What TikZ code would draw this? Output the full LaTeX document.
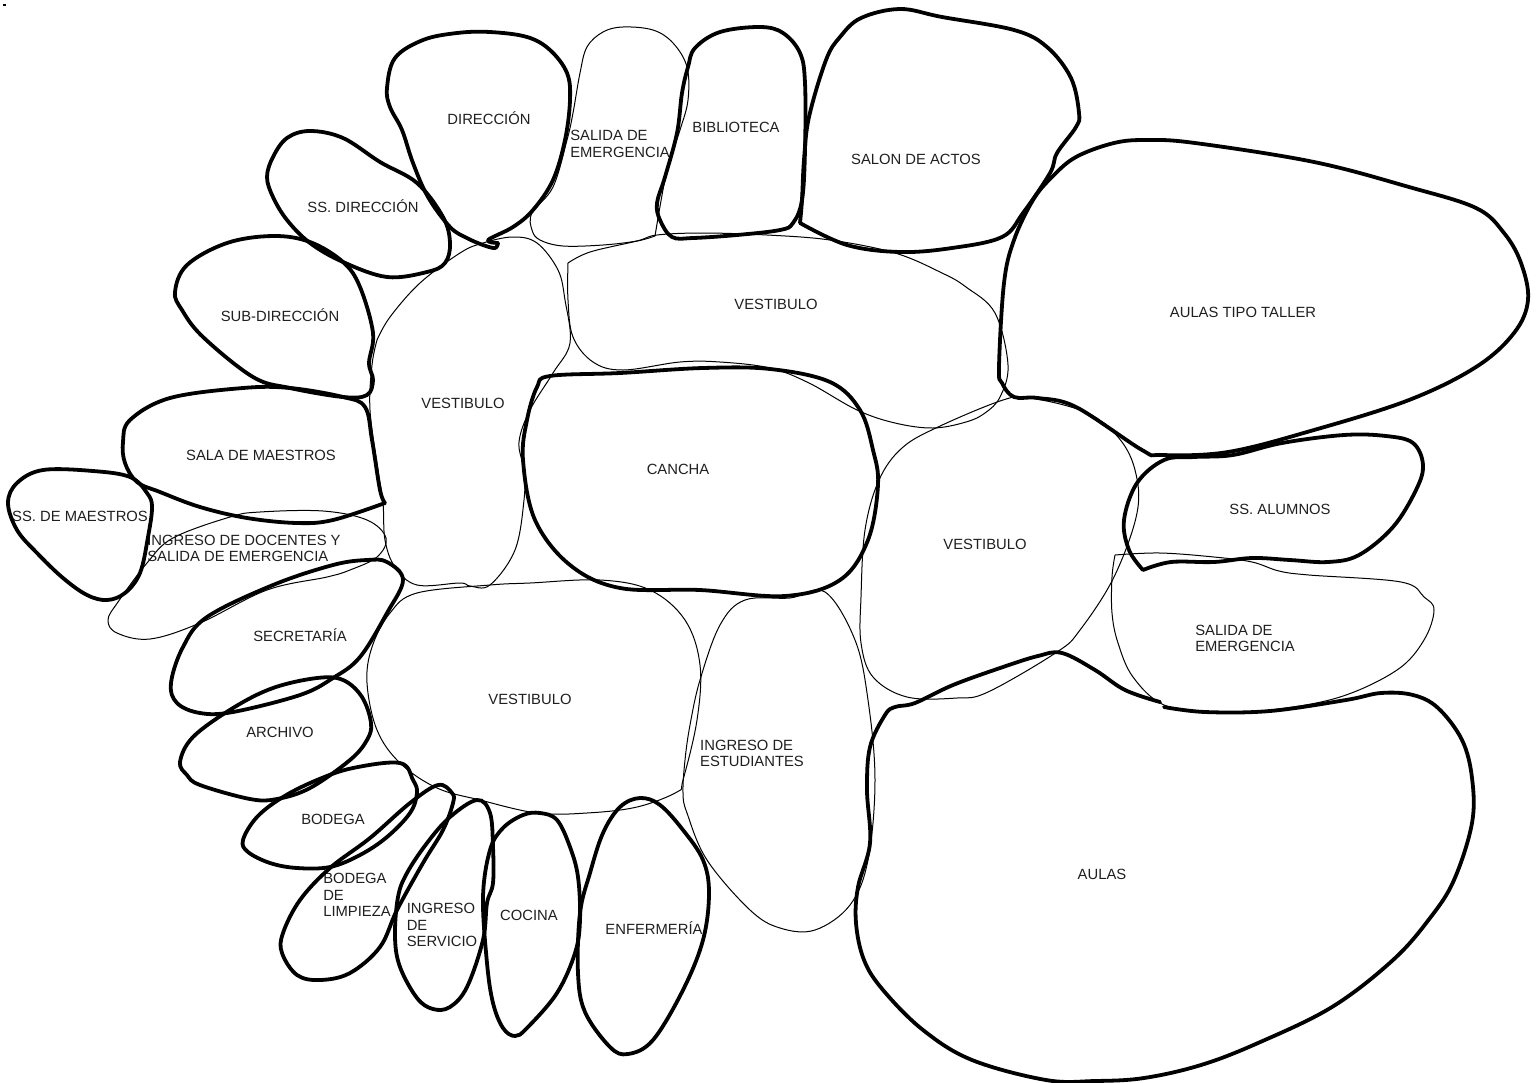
\documentclass[tikz,border=0pt]{standalone}
\usepackage{fontspec}
\setmainfont{Liberation Sans}
\tikzset{
 x=1pt,y=-1pt,
 bubble/.style={draw=black,line width=3.8pt,line join=round,line cap=round},
 thinb/.style={draw=black,line width=1pt,line join=round},
 lbl/.style={inner sep=0pt,align=left,text=black!88,font=\fontsize{14.8}{16.2}\selectfont}
}
\newcommand{\blob}[2]{\draw[#1] plot[smooth cycle,tension=0.6] coordinates {#2};}
\newcommand{\curv}[2]{\draw[#1] plot[smooth,tension=0.6] coordinates {#2};}
\begin{document}
\begin{tikzpicture}
\useasboundingbox (0,0) rectangle (1536,1082);
\fill[black] (3,4) rectangle (6,5.5);
% thin shapes
\curv{thinb}{(655,236)(667,170)(680,130)(688,100)(687,67)(673,43)(653,30)(623,27)(603,32)(587,47)(580,73)(573,113)(567,140)(553,187)(532,213)(532,230)(540,240)(563,246)(603,245)(637,241)(655,236)}
\curv{thinb}{(377,340)(390,317)(420,283)(460,253)(483,243)(513,237)(537,243)(558,270)(565,300)(570,343)(553,373)(530,410)(519,442)(524,470)(524,500)(515,550)(490,585)(470,586)(460,583)(417,585)(395,567)(385,540)(383,503)(378,470)(370,410)(372,365)(377,340)}
\curv{thinb}{(568,263)(590,252)(637,241)(657,235)(703,233)(767,235)(830,240)(895,253)(942,273)(966,287)(995,313)(1008,365)(1000,397)(985,413)(966,422)(933,428)(895,423)(857,410)(809,383)(770,368)(720,362)(680,362)(623,370)(593,362)(573,337)(568,300)(568,263)}
\blob{thinb}{(879,480)(902,448)(938,427)(1003,400)(1030,398)(1085,412)(1118,437)(1135,470)(1137,513)(1114,577)(1080,630)(1057,652)(988,692)(957,698)(907,697)(873,677)(861,643)(861,597)(865,530)}
\blob{thinb}{(367,683)(372,647)(390,613)(417,593)(490,585)(530,583)(600,580)(650,590)(685,620)(700,665)(697,720)(683,780)(677,792)(637,807)(587,813)(537,813)(480,800)(437,788)(400,763)(377,730)}
\blob{thinb}{(700,680)(720,625)(745,600)(790,598)(825,592)(855,640)(868,700)(875,780)(868,860)(850,905)(815,930)(780,928)(750,910)(707,860)(687,813)(683,793)(685,760)(690,725)}
\blob{thinb}{(108,620)(118,602)(147,563)(173,538)(230,517)(260,512)(323,511)(367,520)(386,538)(377,557)(350,570)(327,577)(267,590)(200,623)(150,639)(117,633)}
\curv{thinb}{(1115,555)(1160,553)(1214,557)(1252,562)(1279,571)(1309,575)(1401,582)(1424,597)(1434,610)(1424,640)(1397,670)(1340,697)(1271,710)(1214,713)(1164,705)(1133,677)(1118,643)(1112,613)(1112,577)(1115,555)}
% labels
\node[lbl] (n1) at (489,118) {DIRECCIÓN};
\node[lbl] (n2) at (363,206) {SS. DIRECCIÓN};
\node[lbl] (n3) at (280,315) {SUB-DIRECCIÓN};
\node[lbl] (n4) at (261,455) {SALA DE MAESTROS};
\node[lbl] (n5) at (80,516) {SS. DE MAESTROS};
\node[lbl] (n6) at (244,548) {INGRESO DE DOCENTES Y\\SALIDA DE EMERGENCIA};
\node[lbl] (n7) at (300,635) {SECRETARÍA};
\node[lbl] (n8) at (280,732) {ARCHIVO};
\node[lbl] (n9) at (333,819) {BODEGA};
\node[lbl] (n10) at (357,895) {BODEGA\\DE\\LIMPIEZA};
\node[lbl] (n11) at (442,925) {INGRESO\\DE\\SERVICIO};
\node[lbl] (n12) at (529,915) {COCINA};
\node[lbl] (n13) at (654,928) {ENFERMERÍA};
\node[lbl] (n14) at (620,144) {SALIDA DE\\EMERGENCIA};
\node[lbl] (n15) at (736,127) {BIBLIOTECA};
\node[lbl] (n16) at (916,159) {SALON DE ACTOS};
\node[lbl] (n17) at (776,304) {VESTIBULO};
\node[lbl] (n18) at (463,403) {VESTIBULO};
\node[lbl] (n19) at (678,469) {CANCHA};
\node[lbl] (n20) at (985,544) {VESTIBULO};
\node[lbl] (n21) at (530,699) {VESTIBULO};
\node[lbl] (n22) at (752,753) {INGRESO DE\\ESTUDIANTES};
\node[lbl] (n23) at (1243,312) {AULAS TIPO TALLER};
\node[lbl] (n24) at (1280,509) {SS. ALUMNOS};
\node[lbl] (n25) at (1245,638) {SALIDA DE\\EMERGENCIA};
\node[lbl] (n26) at (1102,874) {AULAS};
% thick shapes
\curv{bubble}{(498,243)(495,248)(483,245)(467,238)(450,227)(428,197)(413,163)(402,130)(390,107)(387,88)(395,58)(423,40)(457,33)(490,32)(527,37)(550,50)(567,73)(570,100)(565,140)(553,180)(533,210)(513,227)(488,240)(498,243)}
\blob{bubble}{(267,177)(273,157)(287,138)(310,131)(343,138)(380,162)(417,183)(443,217)(450,243)(445,263)(427,272)(387,277)(343,262)(310,243)(287,220)(273,197)}
\blob{bubble}{(175,292)(187,265)(227,243)(273,236)(310,242)(343,262)(360,287)(373,333)(369,363)(373,380)(367,395)(343,397)(290,388)(253,377)(203,337)(182,310)}
\curv{bubble}{(385,503)(333,520)(297,523)(247,518)(200,507)(160,492)(137,482)(125,463)(123,442)(130,420)(170,398)(243,388)(290,388)(343,397)(365,407)(372,440)(380,490)(385,503)}
\blob{bubble}{(8,503)(17,483)(43,470)(93,471)(130,477)(147,493)(152,507)(148,537)(140,573)(125,593)(107,600)(87,595)(63,578)(37,553)(17,530)}
\blob{bubble}{(403,580)(387,562)(367,560)(333,565)(273,585)(207,617)(183,647)(171,683)(177,703)(200,713)(233,712)(300,695)(333,678)(360,657)(387,613)}
\blob{bubble}{(180,762)(193,737)(233,708)(273,688)(317,678)(343,680)(362,697)(371,723)(367,740)(350,760)(310,788)(277,799)(250,799)(200,785)(187,775)}
\blob{bubble}{(243,840)(257,817)(283,797)(317,780)(353,768)(400,763)(413,780)(417,793)(410,813)(387,837)(360,855)(330,867)(297,868)(270,863)(248,852)}
\blob{bubble}{(438,785)(452,793)(453,803)(443,830)(423,863)(397,910)(380,947)(350,973)(320,980)(297,975)(282,953)(283,933)(300,900)(330,868)(370,838)(410,803)}
\blob{bubble}{(477,800)(490,813)(493,847)(493,883)(487,903)(483,940)(467,987)(450,1007)(433,1009)(417,998)(400,967)(395,937)(398,897)(407,873)(427,843)(450,817)}
\blob{bubble}{(540,813)(557,820)(570,847)(578,877)(580,920)(575,953)(557,993)(527,1028)(515,1036)(503,1028)(493,1003)(487,963)(483,897)(490,850)(503,828)(523,815)}
\blob{bubble}{(640,798)(660,805)(683,830)(703,860)(709,893)(703,940)(683,990)(653,1040)(628,1054)(610,1047)(585,1012)(578,973)(580,913)(590,873)(603,833)(620,807)}
\blob{bubble}{(688,67)(695,48)(720,32)(760,27)(783,33)(800,53)(805,83)(805,150)(802,200)(793,223)(780,230)(737,235)(693,238)(672,237)(660,220)(657,203)(665,177)(677,133)(682,93)}
\curv{bubble}{(800,223)(847,245)(900,252)(952,248)(1002,237)(1023,213)(1050,173)(1057,153)(1076,127)(1079,113)(1071,78)(1047,47)(1014,30)(942,17)(900,9)(861,18)(840,37)(826,60)(809,117)(804,160)(802,200)(800,223)}
\blob{bubble}{(999,367)(1004,283)(1014,240)(1033,200)(1052,177)(1076,157)(1114,143)(1147,140)(1195,143)(1314,162)(1409,187)(1476,208)(1504,233)(1521,263)(1528,300)(1514,333)(1476,367)(1409,400)(1314,430)(1228,452)(1161,455)(1142,450)(1076,407)(1038,398)(1014,397)(1002,383)}
\curv{bubble}{(1143,570)(1129,550)(1124,520)(1137,483)(1164,460)(1194,457)(1233,455)(1282,443)(1344,435)(1386,436)(1413,443)(1423,465)(1416,490)(1393,527)(1359,555)(1328,562)(1290,560)(1252,558)(1214,562)(1171,562)(1143,570)}
\curv{bubble}{(1164,707)(1205,712)(1270,711)(1346,700)(1381,693)(1413,695)(1438,708)(1462,740)(1472,778)(1472,823)(1454,880)(1430,918)(1393,960)(1332,1007)(1258,1043)(1201,1065)(1144,1078)(1095,1081)(1046,1080)(972,1060)(923,1030)(883,990)(864,960)(856,923)(858,887)(870,843)(867,790)(870,747)(885,715)(895,707)(915,703)(953,685)(1003,667)(1038,656)(1062,653)(1095,670)(1125,690)(1160,702)}
\blob{bubble}{(523,460)(527,420)(537,387)(550,376)(620,373)(703,368)(770,369)(830,382)(860,410)(873,450)(878,485)(868,540)(840,580)(785,596)(700,590)(620,588)(570,565)(535,520)}
\end{tikzpicture}
\end{document}
